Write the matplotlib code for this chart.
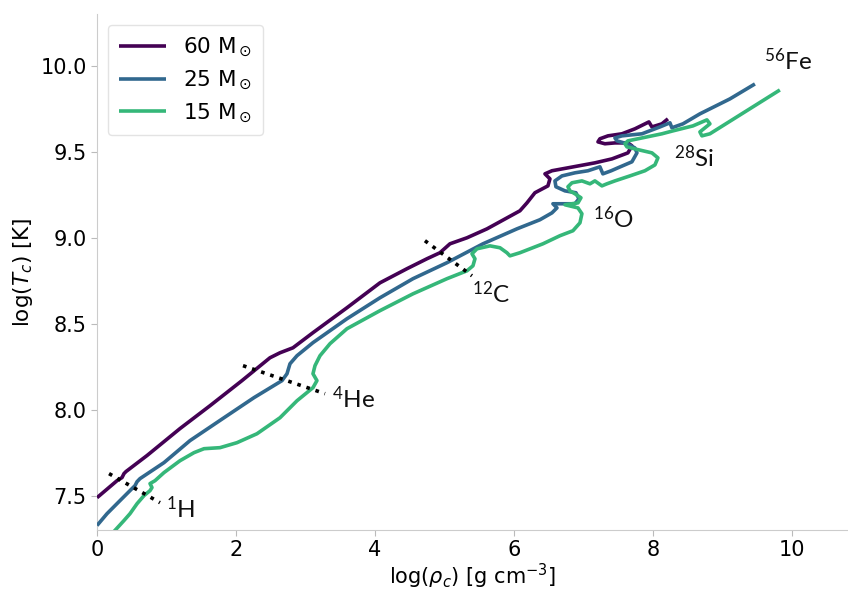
import matplotlib
matplotlib.use("Agg")
import matplotlib.pyplot as plt

# Central density / temperature tracks, log10 values
rho_60 = [0.000, 0.288, 0.360, 0.388, 0.417, 0.719, 1.194, 1.626, 2.086, 2.489, 2.633, 2.820,
          3.108, 3.597, 4.072, 4.460, 4.748, 4.935, 5.079, 5.324, 5.612, 6.086, 6.187, 6.302,
          6.489, 6.518, 6.446, 6.547, 6.777, 7.165, 7.410, 7.640, 7.698, 7.640, 7.453, 7.309,
          7.209, 7.237, 7.353, 7.554, 7.741, 7.942, 7.986, 8.129, 8.216]
T_60 = [7.488, 7.587, 7.605, 7.628, 7.640, 7.733, 7.890, 8.023, 8.169, 8.302, 8.331, 8.360,
        8.448, 8.593, 8.738, 8.820, 8.878, 8.913, 8.965, 9.000, 9.052, 9.157, 9.203, 9.262,
        9.302, 9.343, 9.372, 9.390, 9.407, 9.436, 9.459, 9.494, 9.535, 9.552, 9.552, 9.547,
        9.558, 9.576, 9.593, 9.605, 9.634, 9.674, 9.645, 9.663, 9.692]

rho_25 = [0.000, 0.144, 0.331, 0.504, 0.547, 0.576, 0.619, 0.964, 1.338, 1.827, 2.259, 2.662,
          2.734, 2.777, 2.878, 3.108, 3.597, 4.072, 4.547, 5.036, 5.554, 6.043, 6.374, 6.547,
          6.619, 6.561, 6.662, 6.878, 6.935, 6.892, 6.734, 6.604, 6.590, 6.691, 6.878, 7.065,
          7.237, 7.280, 7.400, 7.496, 7.698, 7.770, 7.741, 7.626, 7.482, 7.453, 7.554, 7.842,
          8.101, 8.245, 8.273, 8.432, 8.676, 9.108, 9.468]
T_25 = [7.326, 7.395, 7.471, 7.541, 7.558, 7.581, 7.599, 7.692, 7.820, 7.953, 8.070, 8.169,
        8.209, 8.267, 8.314, 8.390, 8.529, 8.651, 8.762, 8.855, 8.965, 9.052, 9.105, 9.145,
        9.174, 9.198, 9.198, 9.198, 9.227, 9.262, 9.273, 9.297, 9.331, 9.360, 9.378, 9.390,
        9.413, 9.372, 9.390, 9.407, 9.442, 9.494, 9.523, 9.547, 9.564, 9.581, 9.593, 9.605,
        9.645, 9.669, 9.640, 9.663, 9.721, 9.808, 9.895]

rho_15 = [0.230, 0.388, 0.475, 0.576, 0.676, 0.763, 0.791, 0.763, 0.835, 0.964, 1.194, 1.396,
          1.540, 1.770, 2.014, 2.302, 2.633, 2.878, 3.108, 3.165, 3.108, 3.137, 3.209, 3.353,
          3.597, 4.072, 4.547, 5.036, 5.324, 5.410, 5.439, 5.396, 5.468, 5.655, 5.799, 5.899,
          5.942, 6.086, 6.417, 6.662, 6.849, 6.950, 6.978, 6.921, 6.734, 6.921, 6.964, 6.878,
          6.806, 6.777, 6.835, 6.978, 7.094, 7.165, 7.266, 7.338, 7.453, 7.669, 7.885, 8.029,
          8.072, 7.986, 7.741, 7.626, 7.597, 7.640, 7.784, 8.129, 8.288, 8.576, 8.777, 8.820,
          8.676, 8.705, 8.820, 9.827]
T_15 = [7.285, 7.355, 7.395, 7.453, 7.500, 7.529, 7.547, 7.570, 7.587, 7.634, 7.703, 7.750,
        7.773, 7.779, 7.808, 7.860, 7.953, 8.052, 8.128, 8.169, 8.209, 8.256, 8.314, 8.384,
        8.471, 8.576, 8.674, 8.762, 8.808, 8.837, 8.878, 8.907, 8.936, 8.953, 8.942, 8.913,
        8.895, 8.913, 8.965, 9.012, 9.041, 9.087, 9.140, 9.174, 9.192, 9.203, 9.233, 9.256,
        9.273, 9.297, 9.320, 9.331, 9.314, 9.331, 9.302, 9.314, 9.331, 9.360, 9.390, 9.424,
        9.465, 9.494, 9.517, 9.529, 9.547, 9.564, 9.576, 9.605, 9.622, 9.651, 9.686, 9.663,
        9.616, 9.593, 9.605, 9.860]

track_labels = ["60 M$_\\odot$", "25 M$_\\odot$", "15 M$_\\odot$"]
track_colors = ["#440154", "#31688e", "#35b779"]

# Ignition markers for core burning stages: (rho0, T0, rho1, T1)
ignition_lines = {
    "H":  (0.173, 7.628, 0.906, 7.459),
    "He": (2.101, 8.256, 3.281, 8.093),
    "C":  (4.719, 8.983, 5.396, 8.779),
}

# Element labels: text, rho, T (baseline)
element_text = ["$^{1}$H", "$^{4}$He", "$^{12}$C", "$^{16}$O", "$^{28}$Si", "$^{56}$Fe"]
element_rho = [0.990, 3.381, 5.396, 7.137, 8.302, 9.600]
element_T = [7.372, 8.012, 8.622, 9.058, 9.413, 9.977]

plt.rcParams["mathtext.rm"] = "Lato"
plt.rcParams["mathtext.it"] = "Lato:italic"

fig = plt.figure(figsize=(8.48, 5.9), dpi=100)
ax = fig.add_axes([0.1144, 0.1017, 0.885, 0.874])

tracks = [(rho_60, T_60), (rho_25, T_25), (rho_15, T_15)]
for (r, t), lab, col in zip(tracks, track_labels, track_colors):
    ax.plot(r, t, color=col, lw=2.6, label=lab, solid_capstyle="butt", zorder=3)

for r0, t0, r1, t1 in ignition_lines.values():
    ax.plot([r0, r1], [t0, t1], color="black", lw=2.6, linestyle=":", zorder=4)

for s, r, t in zip(element_text, element_rho, element_T):
    ax.text(r, t, s, fontsize=17.5, family="Lato", math_fontfamily="custom",
            ha="left", va="baseline", color="#111111")

ax.set_xlim(0, 10.8)
ax.set_ylim(7.3, 10.3)
ax.set_xticks([0, 2, 4, 6, 8, 10])
ax.set_yticks([7.5, 8.0, 8.5, 9.0, 9.5, 10.0])

ax.set_xlabel(r"log($\rho_c$) [g cm$^{-3}$]", fontsize=15, labelpad=1)
ax.set_ylabel(r"log($T_c$) [K]", fontsize=15.5)
ax.tick_params(labelsize=15, color="#bbbbbb", length=4)

for side in ["top", "right"]:
    ax.spines[side].set_visible(False)
for side in ["left", "bottom"]:
    ax.spines[side].set_color("#cccccc")

leg = ax.legend(loc="upper left", fontsize=15.5, handlelength=2.2, frameon=True,
                borderpad=0.5, labelspacing=0.45)
leg.get_frame().set_edgecolor("#dddddd")

fig.savefig("out.png", dpi=100)
